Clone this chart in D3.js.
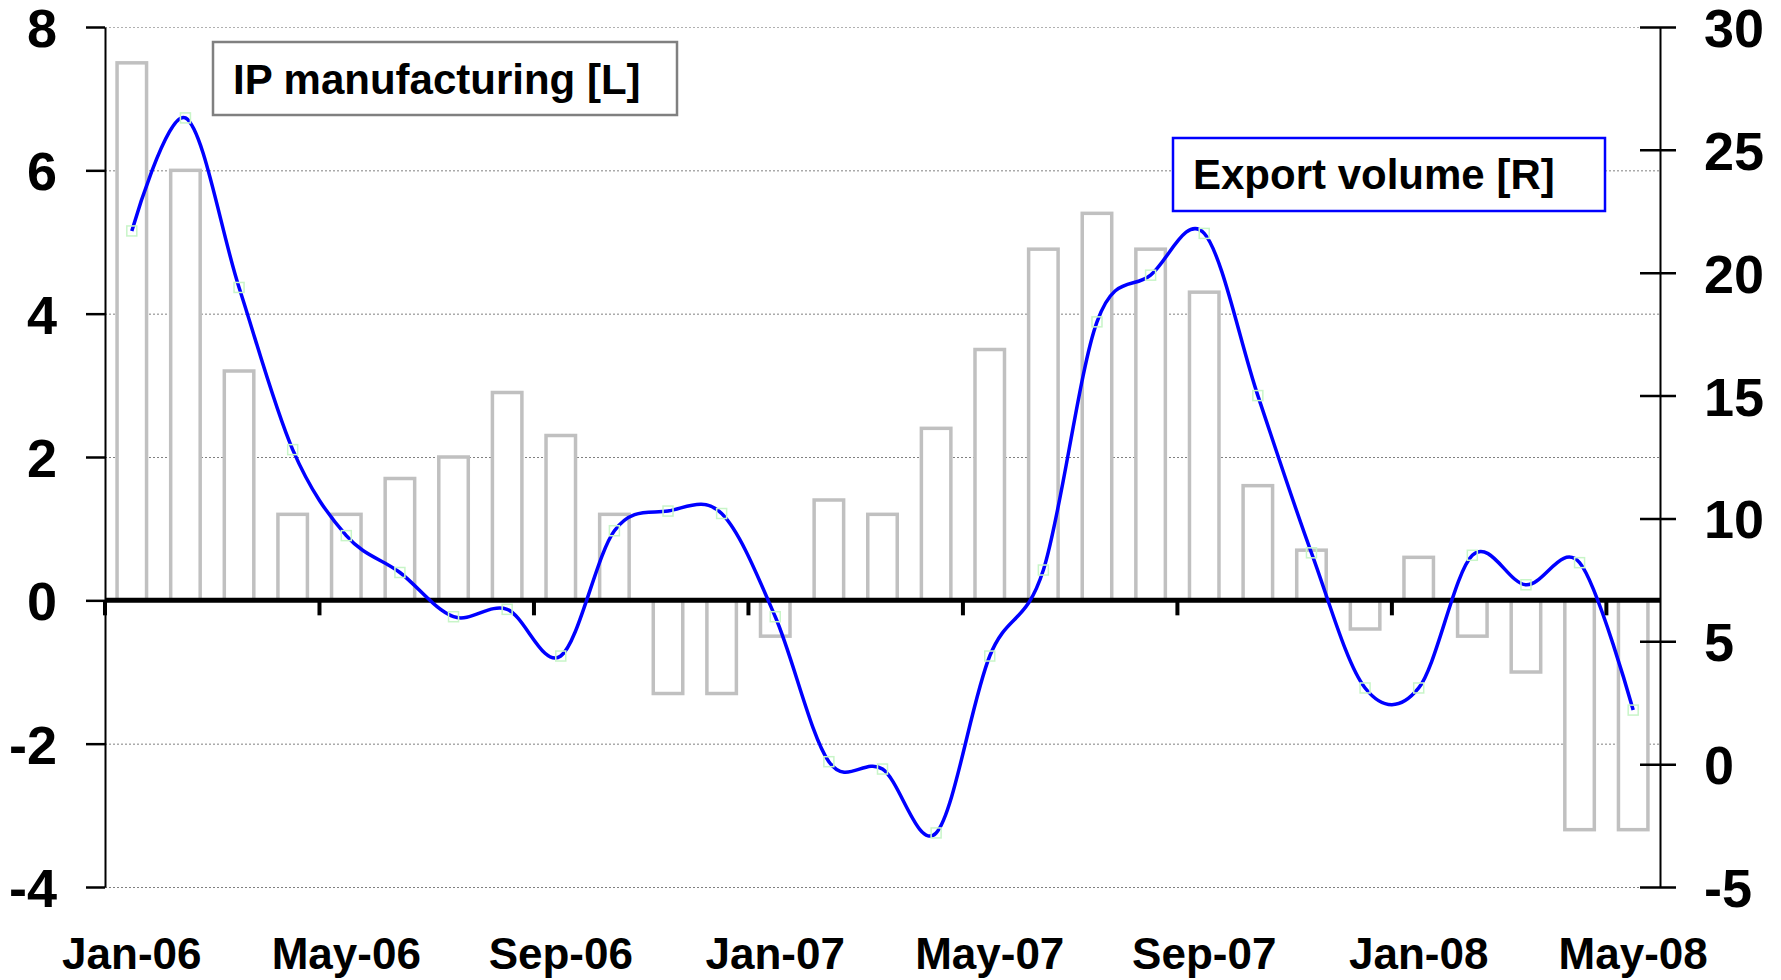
<!DOCTYPE html>
<html>
<head>
<meta charset="utf-8">
<script src="https://cdnjs.cloudflare.com/ajax/libs/d3/7.8.5/d3.min.js"></script>
<style>
  html, body { margin: 0; padding: 0; background: #fff; }
  svg text { font-family: "Liberation Sans", Arial, sans-serif; font-weight: bold; }
</style>
</head>
<body>
<div id="chart"></div>
<script>
// months on the category axis
const months = ['Jan-06', 'Feb-06', 'Mar-06', 'Apr-06', 'May-06', 'Jun-06', 'Jul-06', 'Aug-06',
  'Sep-06', 'Oct-06', 'Nov-06', 'Dec-06', 'Jan-07', 'Feb-07', 'Mar-07', 'Apr-07', 'May-07',
  'Jun-07', 'Jul-07', 'Aug-07', 'Sep-07', 'Oct-07', 'Nov-07', 'Dec-07', 'Jan-08', 'Feb-08',
  'Mar-08', 'Apr-08', 'May-08'];

// IP manufacturing, left axis (bars)
const ipManufacturing = [7.5, 6.0, 3.2, 1.2, 1.2, 1.7, 2.0, 2.9, 2.3, 1.2, -1.3, -1.3, -0.5,
  1.4, 1.2, 2.4, 3.5, 4.9, 5.4, 4.9, 4.3, 1.6, 0.7, -0.4, 0.6, -0.5, -1.0, -3.2, -3.2];

// Export volume, right axis (line)
const exportVolume = [21.7, 26.3, 19.4, 12.8, 9.3, 7.8, 6.0, 6.3, 4.4, 9.5, 10.3, 10.2, 6.0,
  0.1, -0.2, -2.8, 4.4, 7.9, 18.0, 19.9, 21.6, 15.0, 8.6, 3.1, 3.1, 8.5, 7.3, 8.2, 2.2];

const leftTicks = [-4, -2, 0, 2, 4, 6, 8];
const rightTicks = [-5, 0, 5, 10, 15, 20, 25, 30];
const labelMonths = ['Jan-06', 'May-06', 'Sep-06', 'Jan-07', 'May-07', 'Sep-07', 'Jan-08', 'May-08'];

const legendIP = 'IP manufacturing [L]';
const legendExport = 'Export volume [R]';

let width = 1781,
    height = 980,
    margin = {top: 27, left: 105, bottom: 93, right: 121},
    axisFontSize = 54,
    monthFontSize = 44,
    legendFontSize = 42;

let svg = d3.select('#chart')
  .append('svg')
  .attr('width', width)
  .attr('height', height);

let x = d3.scaleBand()
  .domain(months)
  .range([margin.left, width - margin.right])
  .paddingInner(0.45)
  .paddingOuter(0.225);

let yLeft = d3.scaleLinear()
  .domain([-4, 8])
  .range([height - margin.bottom, margin.top]);

let yRight = d3.scaleLinear()
  .domain([-5, 30])
  .range([height - margin.bottom, margin.top]);

let step = x.step();
let boundary = (m) => x(m) - x.paddingOuter() * step;

// gridlines
svg.append('g')
  .selectAll('line')
  .data(leftTicks.filter(d => d !== 0))
  .enter()
  .append('line')
  .attr('x1', margin.left)
  .attr('x2', width - margin.right)
  .attr('y1', d => yLeft(d) + 0.5)
  .attr('y2', d => yLeft(d) + 0.5)
  .style('stroke', d => d === 8 ? '#b0b0b0' : '#808080')
  .style('stroke-width', 1)
  .style('stroke-dasharray', '2,2');

// bars
svg.append('g')
  .selectAll('rect')
  .data(ipManufacturing)
  .enter()
  .append('rect')
  .attr('x', (d, i) => x(months[i]))
  .attr('width', x.bandwidth())
  .attr('y', d => yLeft(Math.max(0, d)))
  .attr('height', d => Math.abs(yLeft(d) - yLeft(0)))
  .style('fill', '#fff')
  .style('stroke', '#c0c0c0')
  .style('stroke-width', 3.5);

// zero line with month ticks
svg.append('line')
  .attr('x1', margin.left)
  .attr('x2', width - margin.right)
  .attr('y1', yLeft(0))
  .attr('y2', yLeft(0))
  .style('stroke', '#000')
  .style('stroke-width', 5);

svg.append('g')
  .selectAll('line')
  .data(labelMonths)
  .enter()
  .append('line')
  .attr('x1', d => boundary(d))
  .attr('x2', d => boundary(d))
  .attr('y1', yLeft(0))
  .attr('y2', yLeft(0) + 15)
  .style('stroke', '#000')
  .style('stroke-width', 4);

// x labels
svg.append('g')
  .selectAll('text')
  .data(labelMonths)
  .enter()
  .append('text')
  .attr('x', d => x(d) + x.bandwidth() / 2)
  .attr('y', 969)
  .attr('text-anchor', 'middle')
  .style('font-size', monthFontSize + 'px')
  .text(d => d);

// left axis
let leftAxis = svg.append('g')
  .attr('transform', `translate(${margin.left}, 0)`)
  .call(d3.axisLeft(yLeft)
    .tickValues(leftTicks)
    .tickSizeInner(19)
    .tickSizeOuter(0)
    .tickPadding(29)
    .tickFormat(d => String(d)));

// right axis
let rightAxis = svg.append('g')
  .attr('transform', `translate(${width - margin.right}, 0)`)
  .call(d3.axisRight(yRight)
    .tickValues(rightTicks)
    .tickSizeInner(16)
    .tickSizeOuter(0)
    .tickPadding(28)
    .tickFormat(d => String(d)));

rightAxis.selectAll('.tick line').attr('x1', -20);

[leftAxis, rightAxis].forEach(axis => {
  axis.select('.domain').style('stroke', '#000').style('stroke-width', 2);
  axis.selectAll('.tick line').style('stroke', '#000').style('stroke-width', 2.5);
  axis.selectAll('.tick text')
    .attr('dy', '0.36em')
    .style('font-size', axisFontSize + 'px')
    .style('font-family', '"Liberation Sans", Arial, sans-serif')
    .style('font-weight', 'bold')
    .style('fill', '#000');
});

// export line
let line = d3.line()
  .x((d, i) => x(months[i]) + x.bandwidth() / 2)
  .y(d => yRight(d))
  .curve(d3.curveCardinal.tension(0));

svg.append('path')
  .datum(exportVolume)
  .attr('d', line)
  .style('fill', 'none')
  .style('stroke', '#0000ff')
  .style('stroke-width', 3.5);

svg.append('g')
  .selectAll('rect')
  .data(exportVolume)
  .enter()
  .append('rect')
  .attr('x', (d, i) => x(months[i]) + x.bandwidth() / 2 - 5)
  .attr('y', d => yRight(d) - 5)
  .attr('width', 10)
  .attr('height', 10)
  .style('fill', 'none')
  .style('stroke', '#c8f5c8')
  .style('stroke-width', 1.5);

// legend boxes
function drawLabelBox(text, bx, by, bw, bh, tx, ty, color) {
  svg.append('rect')
    .attr('x', bx)
    .attr('y', by)
    .attr('width', bw)
    .attr('height', bh)
    .style('fill', '#fff')
    .style('stroke', color)
    .style('stroke-width', 2.5);

  svg.append('text')
    .attr('x', tx)
    .attr('y', ty)
    .style('font-size', legendFontSize + 'px')
    .text(text);
}

drawLabelBox(legendIP, 213, 42, 464, 73, 233, 94, '#808080');
drawLabelBox(legendExport, 1173, 138, 432, 73, 1193, 189, '#0000ff');
</script>
</body>
</html>
